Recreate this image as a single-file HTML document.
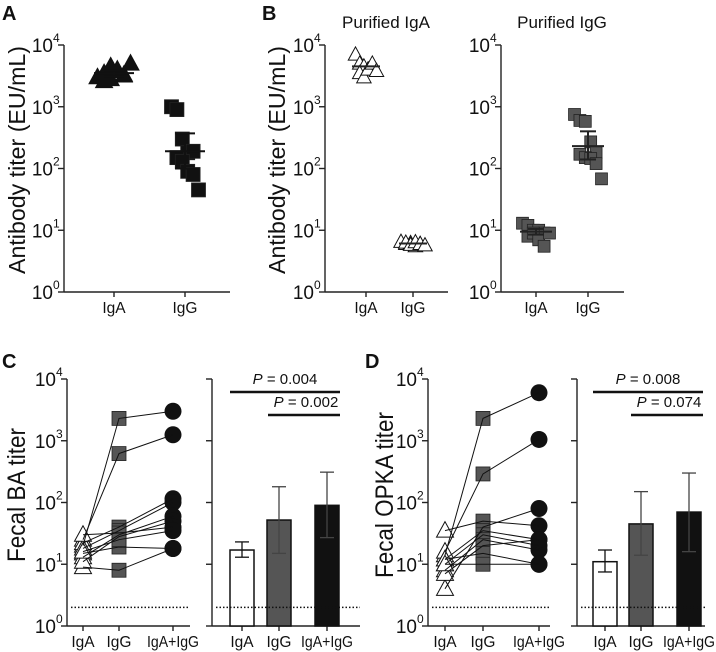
<!DOCTYPE html>
<html><head><meta charset="utf-8"><style>
html,body{margin:0;padding:0;background:#fff;}
svg{display:block;font-family:"Liberation Sans",Arial,sans-serif;}
</style></head><body>
<svg id="fig" width="716" height="652" viewBox="0 0 716 652" xmlns="http://www.w3.org/2000/svg"></svg>
<script>
// ---- Panel A data ----
const aCategories = ["IgA","IgG"];
const aIgA = [3000,3500,2800,4000,3200,2600,4500,3800,3300,5000];
const aIgG = [1000,900,300,180,190,150,130,90,80,45];
const aMean = [3500,190];
const aSemLo = [3100,100];
const aSemHi = [3900,370];
// ---- Panel B data ----
const bCategories = ["IgA","IgG"];
const bIgA_IgA = [7000,5000,4500,4000,4500,3500,3000,4000,5000,3800];
const bIgA_IgG = [6.5,6,6.2,5.5,6,6.3,5.8,6.4,6,5.7];
const bIgAMean = [4500,6.1];
const bIgG_IgA = [13,12,10,10,9,8,9,7,5.5,9];
const bIgG_IgG = [750,600,580,270,180,170,150,145,120,68];
const bIgGMean = [9.5,230];
const bIgGSemHi = [10.5,400];
const bIgGSemLo = [8.5,140];
// ---- Panel C data ----
const cCategories = ["IgA","IgG","IgA+IgG"];
const cIgA = [20,25,9,15,22,18,13,11,30,16];
const cIgG = [2300,620,8,19,40,35,30,28,32,25];
const cBoth = [3000,1250,18,18,115,100,60,50,40,35];
const cBarMean = [17,52,90];
const cBarLo = [13,15,27];
const cBarHi = [23,180,310];
const cPvals = ["0.004","0.002"];
// ---- Panel D data ----
const dCategories = ["IgA","IgG","IgA+IgG"];
const dIgA = [14,16,4,35,12,10,8,7,12,10];
const dIgG = [2300,290,40,50,35,30,25,20,15,10];
const dBoth = [6000,1050,80,42,25,20,17,25,10,10];
const dBarMean = [11,45,70];
const dBarLo = [7.5,14,16];
const dBarHi = [17,150,300];
const dPvals = ["0.008","0.074"];
const limitOfDetection = 2;
const yTickExps = [0,1,2,3,4];

const NS="http://www.w3.org/2000/svg";
const svg=document.getElementById('fig');
function mk(tag,attrs,parent){const e=document.createElementNS(NS,tag);for(const k in attrs)e.setAttribute(k,attrs[k]);(parent||svg).appendChild(e);return e;}
const DEC=61.75;
function yScale(y0){return v=>y0-Math.log10(v)*DEC;}

function axis(g,x0,x1,y0,labels,name){
  const ys=yScale(y0);
  let l=mk('line',{x1:x0,y1:y0-4*DEC,x2:x0,y2:y0,stroke:'#222','stroke-width':1.4},g);
  
  
  l=mk('line',{x1:x0,y1:y0,x2:x1,y2:y0,stroke:'#222','stroke-width':1.4},g);
  
  
  yTickExps.forEach(e=>{
    const y=ys(Math.pow(10,e));
    mk('line',{x1:x0-6,y1:y,x2:x0,y2:y,stroke:'#222','stroke-width':1.4},g);
    if(labels){
      const t=mk('text',{x:x0-11,y:y+7,'text-anchor':'end','font-size':19,fill:'#111'},g);
      
      
      t.textContent='10';
      const s=mk('text',{x:x0-11,y:y-3,'text-anchor':'start','font-size':12,fill:'#111'},g);
      
      
      s.textContent=String(e);
    }
  });
}
function xLabels(g,xs,cats,y0){
  cats.forEach((c,i)=>{
    mk('line',{x1:xs[i],y1:y0,x2:xs[i],y2:y0+5,stroke:'#222','stroke-width':1.4},g);
    const attrs={x:xs[i],y:y0+21,'text-anchor':'middle','font-size':15.5,fill:'#111'};
    if(c.length>4){attrs.textLength=52;attrs.lengthAdjust='spacingAndGlyphs';}
    const t=mk('text',attrs,g);
    
    
    t.textContent=c;
  });
}
function ytitle(x,y,txt,size,len){
  const t=mk('text',{x:x,y:y,'text-anchor':'middle','font-size':size,fill:'#111',textLength:len,lengthAdjust:'spacingAndGlyphs',transform:`rotate(-90 ${x} ${y})`});
  
  
  t.textContent=txt;
}
function letter(x,y,txt){
  const t=mk('text',{x:x,y:y,'font-size':20,'font-weight':'bold',fill:'#111'});
  
  
  t.textContent=txt;
}
function tri(g,x,y,fill,s){
  s=s||1;
  const p=mk('polygon',{points:`${x},${y-9*s} ${x-8.5*s},${y+6.5*s} ${x+8.5*s},${y+6.5*s}`,fill:fill,stroke:'#111','stroke-width':1},g);
  
  
}
function sq(g,x,y,fill,s){
  s=s||1;
  const p=mk('rect',{x:x-7*s,y:y-7*s,width:14*s,height:14*s,fill:fill,stroke:'#222','stroke-width':0.8},g);
  
  
}
function circ(g,x,y){
  const p=mk('circle',{cx:x,cy:y,r:8.5,fill:'#111'},g);
  
  
}
function jit(i){return ((i%5)-2)*6+(i>=5?3:-3);}
function meanSem(g,x,ys,m,lo,hi,w,color){
  let l=mk('line',{x1:x-w,y1:ys(m),x2:x+w,y2:ys(m),stroke:color,'stroke-width':2},g);
  
  
  if(lo!=null){
    mk('line',{x1:x,y1:ys(lo),x2:x,y2:ys(hi),stroke:color,'stroke-width':2},g);
    mk('line',{x1:x-w/2,y1:ys(lo),x2:x+w/2,y2:ys(lo),stroke:color,'stroke-width':2},g);
    mk('line',{x1:x-w/2,y1:ys(hi),x2:x+w/2,y2:ys(hi),stroke:color,'stroke-width':2},g);
  }
}

// ===== Panel A =====
(function(){
  const g=mk('g',{});
  const y0=292, ys=yScale(y0), xs=[114,185];
  axis(g,64,230,y0,true,'panel-a');
  xLabels(g,xs,aCategories,y0);
  ytitle(25,160,'Antibody titer (EU/mL)',23,228);
  letter(2,20,'A');
  aIgA.forEach((v,i)=>tri(g,xs[0]+jit(i)*1.1,ys(v),'#111'));
  aIgG.forEach((v,i)=>sq(g,xs[1]+jit(i)*0.9,ys(v),'#111'));
  meanSem(g,xs[0],ys,aMean[0],aSemLo[0],aSemHi[0],20,'#111');
  meanSem(g,xs[1],ys,aMean[1],aSemLo[1],aSemHi[1],20,'#111');
})();

// ===== Panel B =====
(function(){
  const g=mk('g',{});
  const y0=292, ys=yScale(y0);
  letter(262,20,'B');
  ytitle(285,160,'Antibody titer (EU/mL)',23,228);
  const xl=[366,413];
  axis(g,325,448,y0,true,'panel-b-left');
  xLabels(g,xl,bCategories,y0);
  let t=mk('text',{x:386,y:28,'text-anchor':'middle','font-size':17,fill:'#111'},g);
  t.textContent='Purified IgA';
  bIgA_IgA.forEach((v,i)=>tri(g,xl[0]+jit(i)*0.7,ys(v),'#fff',0.85));
  bIgA_IgG.forEach((v,i)=>tri(g,xl[1]+jit(i)*0.8,ys(v),'#fff',0.85));
  meanSem(g,xl[0],ys,bIgAMean[0],null,null,14,'#222');
  meanSem(g,xl[1],ys,bIgAMean[1],null,null,14,'#222');
  const xr=[536,588];
  axis(g,501,624,y0,true,'panel-b-right');
  xLabels(g,xr,bCategories,y0);
  t=mk('text',{x:562,y:28,'text-anchor':'middle','font-size':17,fill:'#111'},g);
  t.textContent='Purified IgG';
  bIgG_IgA.forEach((v,i)=>sq(g,xr[0]+jit(i)*0.9,ys(v),'#555',0.85));
  bIgG_IgG.forEach((v,i)=>sq(g,xr[1]+jit(i)*0.9,ys(v),'#555',0.85));
  meanSem(g,xr[0],ys,bIgGMean[0],bIgGSemLo[0],bIgGSemHi[0],16,'#222');
  meanSem(g,xr[1],ys,bIgGMean[1],bIgGSemLo[1],bIgGSemHi[1],16,'#222');
})();

function pairedPanel(name,ax,axEnd,xs,cats,A,G,B,title,titleX,titleLen){
  const g=mk('g',{});
  const y0=626, ys=yScale(y0);
  axis(g,ax,axEnd,y0,true,name+'-paired');
  xLabels(g,xs,cats,y0);
  ytitle(titleX,495,title,25,titleLen);
  const lod=mk('line',{x1:ax+4,y1:ys(limitOfDetection),x2:axEnd,y2:ys(limitOfDetection),stroke:'#111','stroke-width':1.5,'stroke-dasharray':'1.5,2'},g);
  
  A.forEach((v,i)=>tri(g,xs[0],ys(v),'#fff'));
  G.forEach((v,i)=>sq(g,xs[1],ys(v),'#555'));
  B.forEach((v,i)=>circ(g,xs[2],ys(v)));
  A.forEach((v,i)=>{
    const p=mk('polyline',{points:`${xs[0]},${ys(v)} ${xs[1]},${ys(G[i])} ${xs[2]},${ys(B[i])}`,fill:'none',stroke:'#111','stroke-width':1},g);
    
  });
}
function barPanel(name,ax,axEnd,xs,cats,mean,lo,hi,pv,p1x,p2x,pEnd){
  const g=mk('g',{});
  const y0=626, ys=yScale(y0);
  axis(g,ax,axEnd,y0,false,name+'-bars');
  xLabels(g,xs,cats,y0);
  const fills=['#fff','#555','#111'];
  mean.forEach((m,i)=>{
    const r=mk('rect',{x:xs[i]-12,y:ys(m),width:24,height:y0-ys(m),fill:fills[i],stroke:'#111','stroke-width':1.5},g);
    
    
  });
  const lod=mk('line',{x1:ax+4,y1:ys(limitOfDetection),x2:axEnd,y2:ys(limitOfDetection),stroke:'#111','stroke-width':1.5,'stroke-dasharray':'1.5,2'},g);
  
  mean.forEach((m,i)=>{
    const c=i==0?'#111':'#444';
    mk('line',{x1:xs[i],y1:ys(lo[i]),x2:xs[i],y2:ys(hi[i]),stroke:c,'stroke-width':1.3},g);
    mk('line',{x1:xs[i]-7,y1:ys(lo[i]),x2:xs[i]+7,y2:ys(lo[i]),stroke:c,'stroke-width':1.3},g);
    mk('line',{x1:xs[i]-7,y1:ys(hi[i]),x2:xs[i]+7,y2:ys(hi[i]),stroke:c,'stroke-width':1.3},g);
  });
  const rows=[[p1x,392,pv[0]],[p2x,415,pv[1]]];
  rows.forEach((r,k)=>{
    const l=mk('line',{x1:r[0],y1:r[1],x2:pEnd,y2:r[1],stroke:'#111','stroke-width':2.5},g);
    
    const cx=(r[0]+pEnd)/2+(k==1?2:0);
    const t=mk('text',{x:cx,y:r[1]-8,'text-anchor':'middle','font-size':15,fill:'#111'},g);
    
    const it=mk('tspan',{'font-style':'italic'},t);it.textContent='P';
    const rest=mk('tspan',{},t);rest.textContent=' = '+r[2];
  });
}
letter(2,368,'C');
pairedPanel('panel-c',67,190,[83,119,173],cCategories,cIgA,cIgG,cBoth,'Fecal BA titer',25,134);
barPanel('panel-c',212,360,[242,279,327],cCategories,cBarMean,cBarLo,cBarHi,cPvals,230,268,340);
letter(365,368,'D');
pairedPanel('panel-d',428,550,[445,483,539],dCategories,dIgA,dIgG,dBoth,'Fecal OPKA titer',393,166);
barPanel('panel-d',577,705,[605,641,689],dCategories,dBarMean,dBarLo,dBarHi,dPvals,593,631,703);
</script>
</body></html>
